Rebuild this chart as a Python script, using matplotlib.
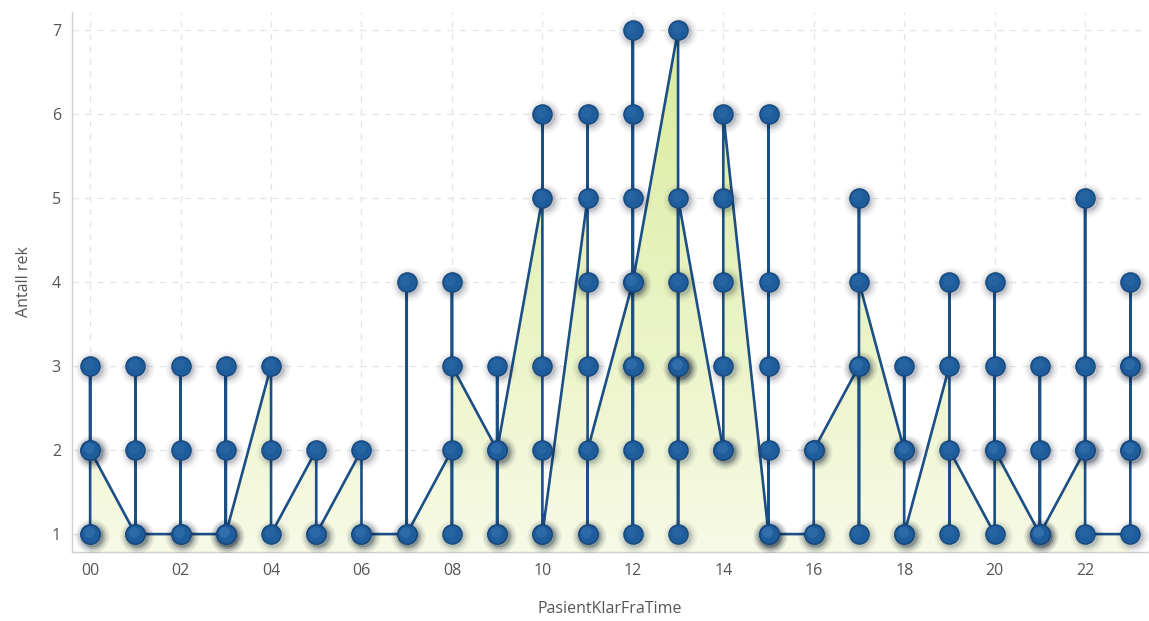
import numpy as np
import matplotlib
matplotlib.use('Agg')
import matplotlib.pyplot as plt
import matplotlib.transforms as mtransforms

# ── Data: rows in plotting order, grouped by hour ─────────────────────────────
hours = list(range(24))
hour_labels = [f'{h:02d}' for h in hours]
rek_per_hour = [
    [1, 1, 3, 2, 2],                 # 00
    [1, 3, 2, 1],                    # 01
    [1, 3, 2, 1],                    # 02
    [1, 1, 3, 2, 1],                 # 03
    [3, 2, 1],                       # 04
    [2, 1, 1],                       # 05
    [2, 1, 1],                       # 06
    [1, 4, 1],                       # 07
    [2, 1, 4, 3],                    # 08
    [2, 1, 1, 3, 2],                 # 09
    [5, 6, 3, 2, 1, 1],              # 10
    [5, 6, 4, 3, 1, 1, 2],           # 11
    [4, 7, 6, 5, 3, 3, 2, 1, 4],     # 12
    [7, 3, 3, 3, 1, 2, 4, 5],        # 13
    [2, 2, 3, 4, 5, 6],              # 14
    [1, 6, 4, 3, 2, 1, 1],           # 15
    [1, 1, 2, 2],                    # 16
    [3, 3, 1, 5, 4],                 # 17
    [2, 2, 3, 1, 1],                 # 18
    [3, 4, 1, 2],                    # 19
    [1, 4, 3, 2, 2],                 # 20
    [1, 3, 2, 1, 1],                 # 21
    [2, 2, 5, 3, 1],                 # 22
    [1, 4, 3, 3, 2, 2],              # 23
]
y_ticks = [1, 2, 3, 4, 5, 6, 7]

x = np.array([h for h, vals in zip(hours, rek_per_hour) for _ in vals], dtype=float)
y = np.array([v for vals in rek_per_hour for v in vals], dtype=float)

# ── Figure ────────────────────────────────────────────────────────────────────
plt.rcParams['font.family'] = ['Open Sans', 'DejaVu Sans']
fig = plt.figure(figsize=(11.49, 6.21), dpi=100)
ax = fig.add_axes([0.0627, 0.111, 0.936, 0.870])
ax.set_xlim(-0.4, 23.38)
ax.set_ylim(0.786, 7.214)

# gradient area fill under the line
poly = ax.fill_between(x, y, 0, color='none', lw=0, zorder=1)
grad = np.linspace(0, 1, 256).reshape(-1, 1)
top_c = np.array([0.85, 0.92, 0.60])
bot_c = np.array([0.97, 0.98, 0.90])
img = bot_c + (top_c - bot_c) * grad[..., None] * np.ones((1, 2, 1))
im = ax.imshow(img, origin='lower', aspect='auto', extent=[-0.4, 23.38, 0.786, 7.214],
               zorder=1, interpolation='bilinear')
im.set_clip_path(poly.get_paths()[0], transform=ax.transData)

# the connecting line
ax.plot(x, y, color='#1b4f85', lw=1.9, zorder=3)

# soft shadows under markers (stacked where rows overlap)
shadow_tr = mtransforms.offset_copy(ax.transData, fig=fig, x=1.5, y=-2.0, units='dots')
for s, a in [(600, 0.035), (460, 0.05), (340, 0.08), (250, 0.12)]:
    ax.scatter(x, y, s=s, color='#0b1a30', alpha=a, lw=0, zorder=4, transform=shadow_tr)

# markers
ax.scatter(x, y, s=190, color='#1e5c9c', edgecolor='#16487d', lw=1.0, zorder=5)
hl_tr = mtransforms.offset_copy(ax.transData, fig=fig, x=-1.5, y=2.0, units='dots')
ax.scatter(x, y, s=60, color='#4a88c6', alpha=0.18, lw=0, zorder=6, transform=hl_tr)

# axes styling
ax.set_xticks(hours[::2])
ax.set_xticklabels(hour_labels[::2])
ax.set_yticks(y_ticks)
ax.tick_params(length=0, labelsize=11.5, labelcolor='#555555', pad=8)
ax.grid(True, ls=(0, (5, 5)), color='#e4e4e4', lw=0.9, zorder=0)
ax.set_axisbelow(True)
for side in ['top', 'right']:
    ax.spines[side].set_visible(False)
for side in ['left', 'bottom']:
    ax.spines[side].set_color('#d0d0d0')
    ax.spines[side].set_linewidth(1.0)

ax.set_xlabel('PasientKlarFraTime', fontsize=11.5, color='#555555', labelpad=16)
ax.set_ylabel('Antall rek', fontsize=11.5, color='#555555', labelpad=14)

plt.savefig('out.png', dpi=100)
plt.close()
